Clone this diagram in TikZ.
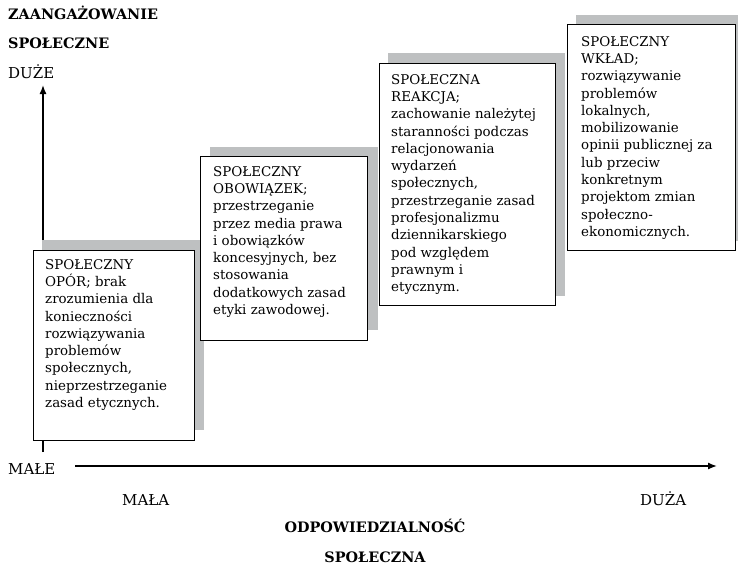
\documentclass[tikz,border=0pt]{standalone}
\usepackage{fontspec}
\setmainfont{DejaVu Serif}
\usetikzlibrary{arrows.meta}
\definecolor{shadowgray}{RGB}{190,192,193}
\begin{document}
\begin{tikzpicture}[x=1pt,y=-1pt,
  shadowbox/.style={fill=shadowgray, draw=none},
  whitebox/.style={fill=white, draw=black, line width=1pt},
  boxtext/.style={anchor=north west, inner sep=0pt, align=left, font=\fontsize{13.4}{17.3}\selectfont},
  axis/.style={line width=1.4pt, -{Latex[length=9pt,width=7pt]}},
  lbl/.style={inner sep=0pt, anchor=base west, font=\fontsize{15}{17}\selectfont},
  hdr/.style={inner sep=0pt, anchor=base west, font=\bfseries\fontsize{14.4}{17}\selectfont}]
\useasboundingbox (0,0) rectangle (738,565);
% axes
\coordinate (yb) at (43,452);
\coordinate (yt) at (43,85);
\coordinate (xl) at (75,466);
\coordinate (xr) at (717,466);
\draw[axis] (yb) -- (yt);
\draw[axis] (xl) -- (xr);
% box 1
\fill[shadowbox] (42,240) rectangle (204,430);
\draw[whitebox] (33,250) rectangle (194,440);
\node[boxtext] (t1) at (45,259) {SPOŁECZNY\\OPÓR; brak\\zrozumienia dla\\konieczności\\rozwiązywania\\problemów\\społecznych,\\nieprzestrzeganie\\zasad etycznych.};
% box 2
\fill[shadowbox] (210,147) rectangle (378,330);
\draw[whitebox] (200,156) rectangle (367,340);
\node[boxtext] (t2) at (213,166) {SPOŁECZNY\\OBOWIĄZEK;\\przestrzeganie\\przez media prawa\\i obowiązków\\koncesyjnych, bez\\stosowania\\dodatkowych zasad\\etyki zawodowej.};
% box 3
\fill[shadowbox] (388,53) rectangle (565,296);
\draw[whitebox] (379,63) rectangle (555,305);
\node[boxtext] (t3) at (391,74) {SPOŁECZNA\\REAKCJA;\\zachowanie należytej\\staranności podczas\\relacjonowania\\wydarzeń\\społecznych,\\przestrzeganie zasad\\profesjonalizmu\\dziennikarskiego\\pod względem\\prawnym i\\etycznym.};
% box 4
\fill[shadowbox] (576,15) rectangle (745,241);
\draw[whitebox] (567,24) rectangle (735,250);
\node[boxtext] (t4) at (581,36) {SPOŁECZNY\\WKŁAD;\\rozwiązywanie\\problemów\\lokalnych,\\mobilizowanie\\opinii publicznej za\\lub przeciw\\konkretnym\\projektom zmian\\społeczno-\\ekonomicznych.};
% labels
\node[hdr] (h1) at (8,19) {ZAANGAŻOWANIE};
\node[hdr] (h2) at (8,48) {SPOŁECZNE};
\node[lbl] (duze) at (8,78) {DUŻE};
\node[lbl] (male) at (8,474) {MAŁE};
\node[lbl] (mala) at (122,505) {MAŁA};
\node[lbl] (duza) at (640,505) {DUŻA};
\node[hdr, anchor=base] (h3) at (375,532) {ODPOWIEDZIALNOŚĆ};
\node[hdr, anchor=base] (h4) at (375,562) {SPOŁECZNA};
\end{tikzpicture}
\end{document}
